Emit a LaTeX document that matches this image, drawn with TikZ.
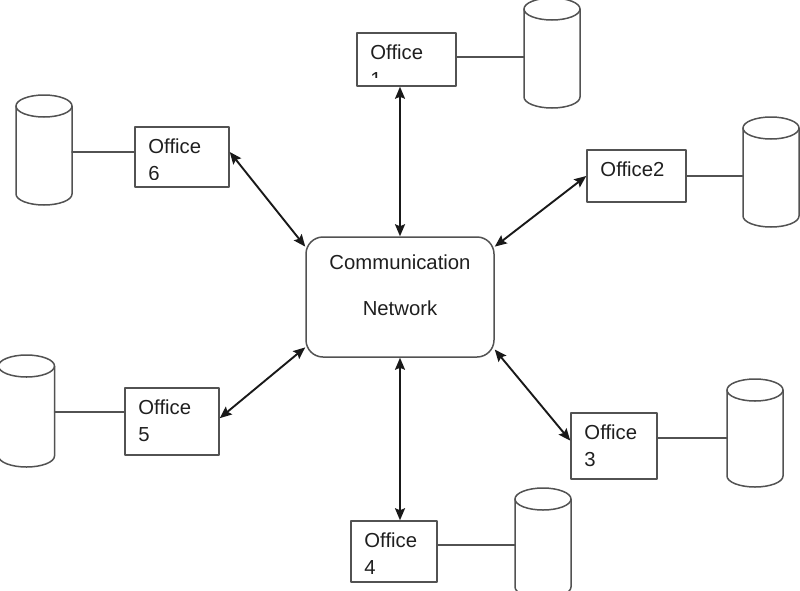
\documentclass[tikz,border=0pt]{standalone}
\usepackage{fontspec}
\setmainfont{Liberation Sans}
\usetikzlibrary{arrows.meta}
\colorlet{lc}{black!68}
\colorlet{ac}{black!90}
\colorlet{tc}{black!88}
\begin{document}
\begin{tikzpicture}[x=1pt,y=-1pt,line join=round,line cap=round,>={Stealth[length=12pt,width=10pt,inset=2pt]},font=\fontsize{20.3}{27}\selectfont,
officebox/.style={draw=lc,line width=1.5pt,inner sep=0pt},
officetext/.style={anchor=base west,inner sep=0pt,text=tc},
netbox/.style={draw=lc,line width=1.5pt,rounded corners=17pt,minimum width=188pt,minimum height=120pt},
link/.style={draw=lc,line width=1.5pt},
arrowlink/.style={draw=ac,line width=1.9pt,<->}]
\useasboundingbox (0,0) rectangle (800,590);
\node[netbox] (net) at (400,297) {};
\node[anchor=base,align=center,inner sep=0pt,text=tc] (nettext) at ([yshift=-79pt]net.north) {Communication\\[19pt]Network};
% offices: name/centre x/centre y/width/height/first line/second line/clip bottom
\foreach \n/\cx/\cy/\w/\h/\fl/\sl/\cb in {1/406.5/59.5/99/53/Office/1/77,2/636.5/176/99/52/Office2//202,3/614/446/86/66/Office/3/479,4/394/551.5/86/61/Office/4/582,5/172/421.5/94/67/Office/5/455,6/182/157/94/60/Office/6/179}{
\node[officebox,minimum width=\w pt,minimum height=\h pt] (o\n) at (\cx,\cy) {};
\begin{scope}
\clip (o\n.north west) rectangle (o\n.east |- 0,\cb);
\node[officetext] (t\n) at ([shift={(14pt,-27pt)}]o\n.north west) {\vtop{\hbox{\fl}\hbox{\sl}}};
\end{scope}
}
% databases: name/centre x/top/bottom
\foreach \n/\cx/\ct/\cbt in {1/552/-2/108,2/771/117/227,3/755/379/487,4/543/488/598,5/26.5/355/467,6/44/95/205}{
\coordinate (c\n-l) at (\cx-28,\ct/2+\cbt/2);
\coordinate (c\n-r) at (\cx+28,\ct/2+\cbt/2);
\draw[link] (\cx-28,\ct+11) -- (\cx-28,\cbt-11) arc[start angle=180,end angle=360,x radius=28pt,y radius=11pt] -- (\cx+28,\ct+11);
\draw[link] (\cx,\ct+11) ellipse[x radius=28pt,y radius=11pt];
}
\foreach \n/\a/\b/\dy in {1/east/l/2.5,2/east/l/0,3/east/l/8,4/east/l/6.5,5/west/r/9.5,6/west/r/5}{
\coordinate (l\n) at ([yshift=\dy pt]o\n.\a);
\draw[link] (l\n) -- (l\n -| c\n-\b);
}
\draw[arrowlink] (net.north) -- (net.north |- o1.south);
\draw[arrowlink] (net.south) -- (net.south |- o4.north);
\draw[arrowlink] (net.152) -- (o6.6);
\draw[arrowlink] (net.28) -- (o2.west);
\draw[arrowlink] (net.208) -- (o5.4);
\draw[arrowlink] (net.331) -- (o3.173);
\end{tikzpicture}
\end{document}
